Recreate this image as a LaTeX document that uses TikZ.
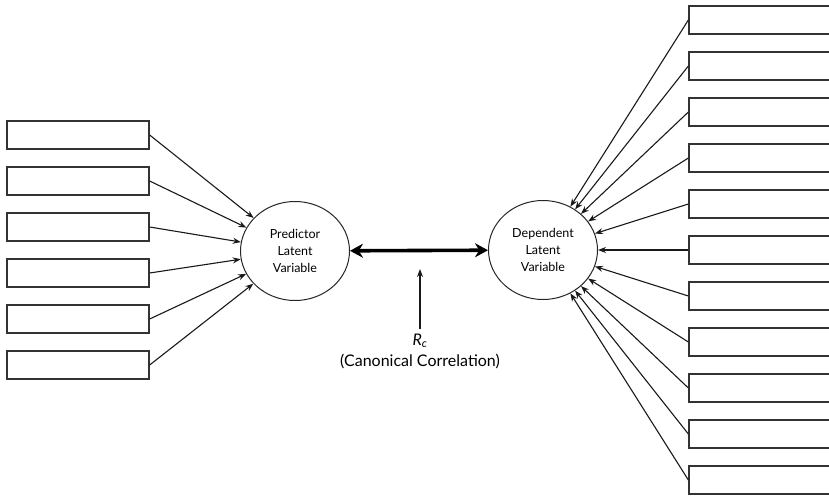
\documentclass[tikz,border=0pt]{standalone}
\usepackage{fontspec}
\setmainfont{Lato}
\usetikzlibrary{arrows.meta,shapes.geometric}

\begin{document}
\begin{tikzpicture}[
    x=1pt, y=-1pt,
    obsbox/.style={draw=black!80, line width=1.3pt, minimum width=142pt, minimum height=28pt, inner sep=0pt},
    latent/.style={draw=black!85, line width=1pt, ellipse, minimum width=109pt, minimum height=99pt, inner sep=0pt, align=center, font=\fontsize{12.5}{17}\selectfont, text=black},
    loading/.style={draw=black!90, line width=1.1pt, -{Stealth[length=8pt,width=6pt]}},
    corrarrow/.style={draw=black, line width=3.6pt, {Stealth[length=13pt,width=14pt]}-{Stealth[length=13pt,width=14pt]}},
    rcarrow/.style={draw=black!90, line width=1.2pt, -{Stealth[length=8pt,width=6pt]}}
]
    % Cornice della figura (i riquadri di destra escono dal bordo)
    \useasboundingbox (0,0) rectangle (829,495);
    \clip (0,0) rectangle (829,495);

    % Variabili latenti
    \node[latent] (pred) at (295,251) {Predictor\\Latent\\Variable};
    \node[latent] (dep) at (543,250) {Dependent\\Latent\\Variable};

    % Correlazione canonica
    \draw[corrarrow] (pred) -- (dep);
    \node[font=\fontsize{16}{18}\selectfont\itshape, inner sep=1pt] (rc) at (420,341) {R\textsubscript{c}};
    \node[font=\fontsize{16}{18}\selectfont, inner sep=1pt] (canon) at (420,361) {(Canonical Correlation)};
    \coordinate (rctip) at (420,269);
    \draw[rcarrow, shorten <=4pt] (rc.north) -- (rctip);

    % Predittori (a sinistra)
    \node[obsbox] (p1) at (78,135) {};
    \node[obsbox] (p2) at (78,181) {};
    \node[obsbox] (p3) at (78,227) {};
    \node[obsbox] (p4) at (78,273) {};
    \node[obsbox] (p5) at (78,319) {};
    \node[obsbox] (p6) at (78,365) {};

    \draw[loading] (p1.east) -- (pred);
    \draw[loading] (p2.east) -- (pred);
    \draw[loading] (p3.east) -- (pred);
    \draw[loading] (p4.east) -- (pred);
    \draw[loading] (p5.east) -- (pred);
    \draw[loading] (p6.east) -- (pred);

    % Variabili dipendenti (a destra)
    \node[obsbox, minimum width=160pt] (d1) at (769,20) {};
    \node[obsbox, minimum width=160pt] (d2) at (769,66) {};
    \node[obsbox, minimum width=160pt] (d3) at (769,112) {};
    \node[obsbox, minimum width=160pt] (d4) at (769,158) {};
    \node[obsbox, minimum width=160pt] (d5) at (769,204) {};
    \node[obsbox, minimum width=160pt] (d6) at (769,250) {};
    \node[obsbox, minimum width=160pt] (d7) at (769,296) {};
    \node[obsbox, minimum width=160pt] (d8) at (769,342) {};
    \node[obsbox, minimum width=160pt] (d9) at (769,388) {};
    \node[obsbox, minimum width=160pt] (d10) at (769,434) {};
    \node[obsbox, minimum width=160pt] (d11) at (769,480) {};

    \draw[loading] (d1.west) -- (dep);
    \draw[loading] (d2.west) -- (dep);
    \draw[loading] (d3.west) -- (dep);
    \draw[loading] (d4.west) -- (dep);
    \draw[loading] (d5.west) -- (dep);
    \draw[loading] (d6.west) -- (dep);
    \draw[loading] (d7.west) -- (dep);
    \draw[loading] (d8.west) -- (dep);
    \draw[loading] (d9.west) -- (dep);
    \draw[loading] (d10.west) -- (dep);
    \draw[loading] (d11.west) -- (dep);
\end{tikzpicture}
\end{document}
